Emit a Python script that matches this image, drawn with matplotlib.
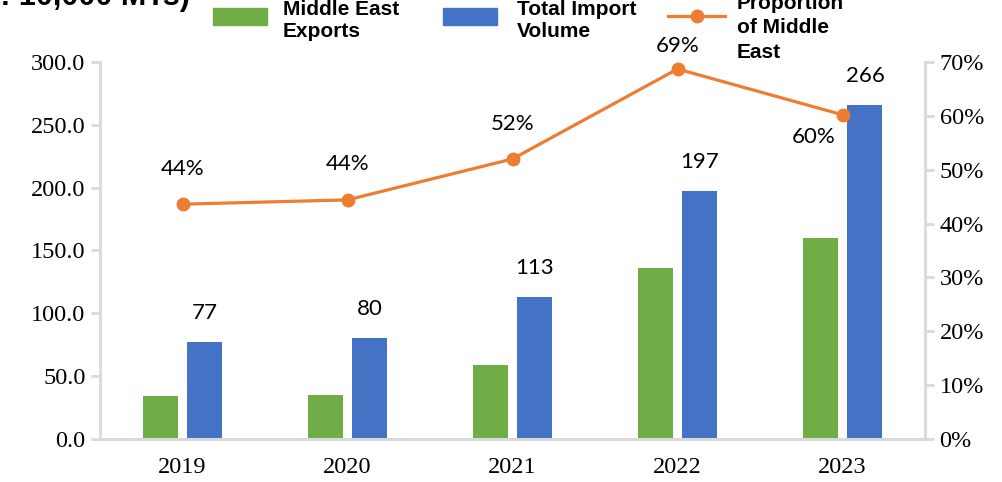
import matplotlib
matplotlib.use('Agg')
import matplotlib.pyplot as plt
from matplotlib.patches import Rectangle
from matplotlib.lines import Line2D
import numpy as np

years = ['2019', '2020', '2021', '2022', '2023']
middle_east = [34, 35, 59, 136, 160]
total_import = [77, 80, 113, 197, 266]
share = [0.436, 0.444, 0.52, 0.687, 0.602]

GREEN = '#70AD47'
BLUE = '#4472C4'
ORANGE = '#ED7D31'
SPINE = '#d9d9d9'

W, H = 1003, 482


def fx(px):
    return px / W


def fy(py):
    # pixels from the top -> figure fraction
    return 1 - py / H


fig = plt.figure(figsize=(W / 100, H / 100), dpi=100)
ax = fig.add_axes([fx(100), 43 / H, 825 / W, 377 / H])
ax2 = ax.twinx()

x = np.arange(len(years))
w = 0.212
ax.bar(x - 0.132, middle_east, w, color=GREEN, zorder=2)
ax.bar(x + 0.136, total_import, w, color=BLUE, zorder=2)
for xi, v in zip(x + 0.136, total_import):
    ax.annotate(f'{v}', (xi, v), xytext=(0, 21), textcoords='offset points',
                ha='center', va='center', fontsize=16, family='Lato')

ax2.plot(x, share, color=ORANGE, lw=2.3, marker='o', markersize=9, zorder=3)
# label offsets (points), as Excel placed them
label_offsets = [(0, 25.5), (0, 25.5), (0, 25), (0, 16.5), (-21, -16)]
for xi, s, off in zip(x, share, label_offsets):
    ax2.annotate(f'{s:.0%}', (xi, s), xytext=off, textcoords='offset points',
                 ha='center', va='center', fontsize=16, family='Lato')

ax.set_xlim(-0.5, len(years) - 0.5)
ax.set_ylim(0, 300)
ax2.set_ylim(0, 0.7)
ax.set_yticks(np.arange(0, 301, 50))
ax.set_yticklabels([f'{t:.1f}' for t in np.arange(0, 301, 50)])
ax2.set_yticks(np.arange(0, 0.71, 0.1))
ax2.set_yticklabels([f'{t:.0%}' for t in np.arange(0, 0.71, 0.1)])
ax.set_xticks(x)
ax.set_xticklabels(years)

for a in (ax, ax2):
    a.spines['top'].set_visible(False)
    for s in ('left', 'right', 'bottom'):
        a.spines[s].set_color(SPINE)
        a.spines[s].set_linewidth(2)
    a.tick_params(axis='y', color=SPINE, width=2, length=6.5, labelsize=17.5,
                  pad=4)
    for lab in a.get_yticklabels():
        lab.set_family('Liberation Serif')
ax.tick_params(axis='x', length=0, labelsize=17.5, pad=13)
for lab in ax.get_xticklabels():
    lab.set_family('Liberation Serif')
ax2.spines['left'].set_visible(False)
ax.spines['right'].set_visible(False)

# legend drawn by hand, laid out like the Excel one (y = last line baseline)
leg_font = dict(family='Liberation Sans', weight='bold', fontsize=15,
                va='baseline', ha='left')
fig.add_artist(Rectangle((fx(213), fy(25)), 54 / W, 17 / H, color=GREEN,
                         transform=fig.transFigure))
fig.text(fx(283), fy(37), 'Middle East\nExports', linespacing=1.2, **leg_font)
fig.add_artist(Rectangle((fx(443), fy(25)), 54 / W, 17 / H, color=BLUE,
                         transform=fig.transFigure))
fig.text(fx(517), fy(37), 'Total Import\nVolume', linespacing=1.2, **leg_font)
fig.add_artist(Line2D([fx(668), fx(725)], [fy(16), fy(16)], color=ORANGE, lw=2.3,
                      transform=fig.transFigure))
fig.add_artist(Line2D([fx(697)], [fy(16)], color=ORANGE, marker='o', markersize=9,
                      transform=fig.transFigure))
fig.text(fx(737), fy(58), 'Proportion\nof Middle\nEast', linespacing=1.38, **leg_font)

fig.text(fx(190), fy(5), '(Unit: 10,000 MTs)', ha='right', va='baseline',
         fontsize=22, weight='bold', family='Liberation Sans')

fig.savefig('out.png', dpi=100)
